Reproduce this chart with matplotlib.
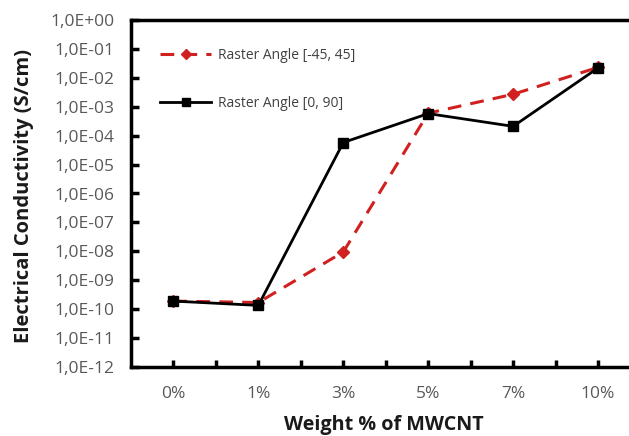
import matplotlib
matplotlib.use("Agg")
import matplotlib.pyplot as plt
import numpy as np
from matplotlib.ticker import FixedLocator, FuncFormatter

categories = ["0%", "1%", "3%", "5%", "7%", "10%"]
raster_45 = [1.9e-10, 1.7e-10, 9.5e-9, 6.0e-4, 2.7e-3, 2.3e-2]
raster_90 = [1.9e-10, 1.35e-10, 5.8e-5, 5.8e-4, 2.1e-4, 2.2e-2]
label_45 = "Raster Angle [-45, 45]"
label_90 = "Raster Angle [0, 90]"
xlabel = "Weight % of MWCNT"
ylabel = "Electrical Conductivity (S/cm)"

plt.rcParams['font.family'] = ['Open Sans', 'DejaVu Sans']

fig = plt.figure(figsize=(6.29, 4.36), dpi=100)
W, H = 629, 436
left, right, top, bottom = 131, 640.5, 20, 367
ax = fig.add_axes([left / W, 1 - bottom / H, (right - left) / W, (bottom - top) / H])

x = np.arange(len(categories))
ax.plot(x, raster_45, color="#d02020", linestyle=(0, (4.5, 3)), linewidth=2.2,
        marker="D", markersize=6.5, label=label_45)
ax.plot(x, raster_90, color="black", linestyle="-", linewidth=2.0,
        marker="s", markersize=6.5, label=label_90)

ax.set_yscale("log")
ax.set_ylim(1e-12, 1e0)
ax.set_xlim(-0.5, len(categories) - 0.5)

ax.yaxis.set_major_locator(FixedLocator([10.0 ** k for k in range(-12, 1)]))
ax.yaxis.set_minor_locator(FixedLocator([]))

def fmt(v, pos):
    e = int(round(np.log10(v)))
    return "1,0E%s%02d" % ("+" if e >= 0 else "-", abs(e))

ax.yaxis.set_major_formatter(FuncFormatter(fmt))
ax.set_xticks(x)
ax.set_xticklabels(categories)
ax.set_xticks(np.arange(-0.5, len(categories), 0.5)[1:], minor=True)

ax.tick_params(axis="y", which="major", direction="in", length=6, width=2.5,
               labelsize=12.5, labelcolor="#595959", pad=12)
ax.tick_params(axis="x", which="major", direction="in", length=5, width=2.5,
               labelsize=12.5, labelcolor="#595959", pad=14)
ax.tick_params(axis="x", which="minor", direction="in", length=5, width=2.5)

for s in ["left", "bottom", "top"]:
    ax.spines[s].set_linewidth(2.5)
ax.spines["right"].set_visible(False)

fig.text(384 / W, 1 / H, xlabel, fontsize=14.2, fontweight="bold",
         color="#1a1a1a", ha="center", va="bottom")
fig.text(24 / W, 1 - 196 / H, ylabel, fontsize=14.5, fontweight="bold",
         color="#1a1a1a", ha="center", va="center", rotation=90)

leg = ax.legend(loc="upper left", bbox_to_anchor=(153 / W, 1 - 41 / H),
                bbox_transform=fig.transFigure, frameon=False, borderpad=0,
                fontsize=10, labelspacing=2.35, handlelength=3.7, handletextpad=0.5,
                markerscale=0.85)
for t in leg.get_texts():
    t.set_color("#404040")

fig.savefig("out.png", dpi=100)
